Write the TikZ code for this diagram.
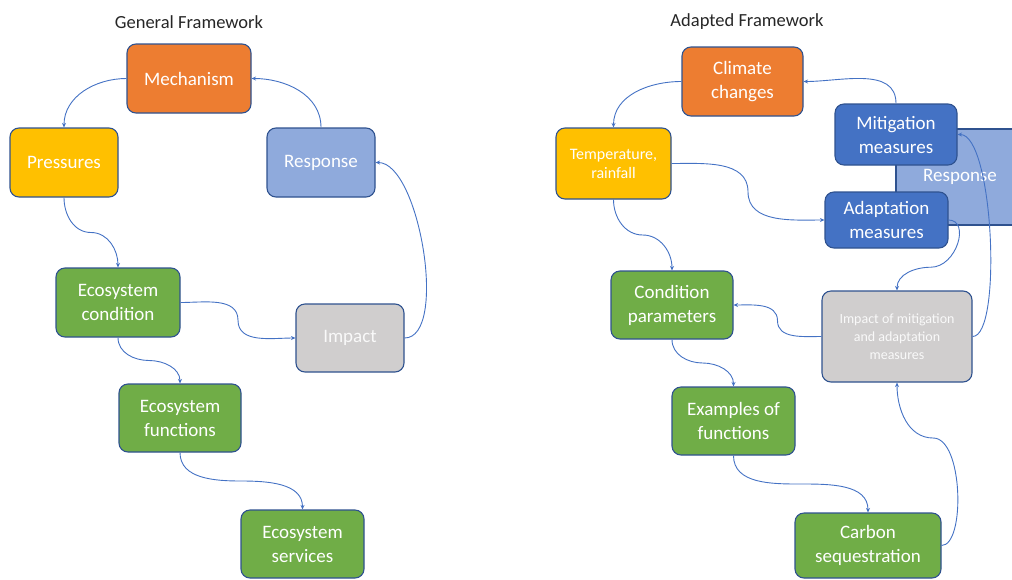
\documentclass[tikz,border=0pt]{standalone}
\usepackage{fontspec}
\setmainfont{Carlito}
\usetikzlibrary{arrows.meta,calc}
\definecolor{orng}{HTML}{ED7D31}
\definecolor{yell}{HTML}{FFC000}
\definecolor{lblue}{HTML}{8FAADC}
\definecolor{dblue}{HTML}{4472C4}
\definecolor{grn}{HTML}{70AD47}
\definecolor{gry}{HTML}{D0CECE}
\definecolor{bordc}{HTML}{2F528F}
\definecolor{arrc}{HTML}{4472C4}
\begin{document}
\begin{tikzpicture}[x=1pt,y=1pt,
  box/.style={draw=bordc, line width=1.1pt, rounded corners=9pt, text=white, align=center, inner sep=0pt, font=\fontsize{19}{24}\selectfont},
  conn/.style={draw=arrc, line width=0.9pt, -{Stealth[length=4.5pt,width=4pt]}},
  ttl/.style={font=\fontsize{18.5}{22}\selectfont, text=black!85}]
\useasboundingbox (0,-579) rectangle (1012,0);
% titles
\node[ttl] (t1) at (189,-22) {General Framework};
\node[ttl] (t2) at (747,-22) {Adapted Framework};
% left framework
\node[box, fill=orng, minimum width=124pt, minimum height=69pt] (mech) at (189,-78.5) {Mechanism};
\node[box, fill=yell, minimum width=108pt, minimum height=69pt] (pres) at (64,-162.5) {Pressures};
\node[box, fill=lblue, minimum width=108pt, minimum height=69pt] (resp) at (321,-162.5) {Response};
\node[box, fill=grn, minimum width=124pt, minimum height=69pt] (econd) at (118,-302.5) {Ecosystem\\condition};
\node[box, fill=gry, minimum width=108pt, minimum height=68pt, text=white!95!gray] (imp) at (350,-338) {Impact};
\node[box, fill=grn, minimum width=122pt, minimum height=68pt] (efun) at (180,-418) {Ecosystem\\functions};
\node[box, fill=grn, minimum width=123pt, minimum height=68pt] (eserv) at (302.5,-544) {Ecosystem\\services};
% right framework
\node[box, fill=lblue, rounded corners=0pt, minimum width=128pt, minimum height=96pt] (respR) at (960,-177) {Response};
\node[box, fill=orng, minimum width=121pt, minimum height=69pt] (clim) at (742.5,-81.5) {Climate\\changes};
\node[box, fill=yell, minimum width=115pt, minimum height=71pt, font=\fontsize{16}{19}\selectfont] (temp) at (613.5,-163.5) {Temperature,\\rainfall};
\node[box, fill=dblue, minimum width=122pt, minimum height=61pt] (mit) at (896,-134.5) {Mitigation\\measures};
\node[box, fill=dblue, minimum width=123pt, minimum height=56pt] (adp) at (886.5,-220) {Adaptation\\measures};
\node[box, fill=grn, minimum width=122pt, minimum height=68pt] (cond) at (672,-305) {Condition\\parameters};
\node[box, fill=gry, minimum width=150pt, minimum height=91pt, font=\fontsize{14}{18}\selectfont, text=white!95!gray] (impR) at (897,-336.5) {Impact of mitigation\\and adaptation\\measures};
\node[box, fill=grn, minimum width=123pt, minimum height=68pt] (exf) at (733.5,-421) {Examples of\\functions};
\node[box, fill=grn, minimum width=146pt, minimum height=65pt] (carb) at (868,-545.5) {Carbon\\sequestration};
% left connectors
\draw[conn] (mech.west) to[out=180,in=90] (pres.north);
\draw[conn] (resp.north) to[out=90,in=0] (mech.east);
\draw[conn] (pres.south) to[out=-90,in=180] ($(pres.south)!0.5!(econd.north)$) to[out=0,in=90] (econd.north);
\draw[conn] (econd.east) to[out=0,in=90] ($(econd.east)!0.5!(imp.west)$) to[out=-90,in=180] (imp.west);
\draw[conn] (imp.east) to[out=0,in=0,out distance=44pt,in distance=44pt] (resp.east);
\draw[conn] (econd.south) to[out=-90,in=180] ($(econd.south)!0.5!(efun.north)$) to[out=0,in=90] (efun.north);
\draw[conn] (efun.south) to[out=-90,in=180] ($(efun.south)!0.5!(eserv.north)$) to[out=0,in=90] (eserv.north);
% right connectors
\draw[conn] (clim.west) to[out=180,in=90] (temp.north);
\draw[conn] (mit.north) to[out=90,in=0] (clim.east);
\draw[conn] (temp.south) to[out=-90,in=180] ($(temp.south)!0.5!(cond.north)$) to[out=0,in=90] (cond.north);
\draw[conn] (temp.east) to[out=0,in=90] ($(temp.east)!0.5!(adp.west)$) to[out=-90,in=180] (adp.west);
\draw[conn] (adp.east) to[out=0,in=0,out distance=22pt,in distance=26pt] ($(adp.east)!0.5!(impR.north)+(8,-12)$) to[out=180,in=90] (impR.north);
\draw[conn] (impR.east) to[out=0,in=0,out distance=30pt,in distance=36pt] (mit.east);
\draw[conn] (impR.west) to[out=180,in=-90] ($(impR.west)!0.5!(cond.east)$) to[out=90,in=0] (cond.east);
\draw[conn] (cond.south) to[out=-90,in=180] ($(cond.south)!0.5!(exf.north)$) to[out=0,in=90] (exf.north);
\draw[conn] (exf.south) to[out=-90,in=180] ($(exf.south)!0.5!(carb.north)$) to[out=0,in=90] (carb.north);
\draw[conn] (carb.east) to[out=0,in=0,out distance=24pt,in distance=30pt] ($(carb.east)!0.5!(impR.south)+(14,26)$) to[out=180,in=-90] (impR.south);
\end{tikzpicture}
\end{document}
